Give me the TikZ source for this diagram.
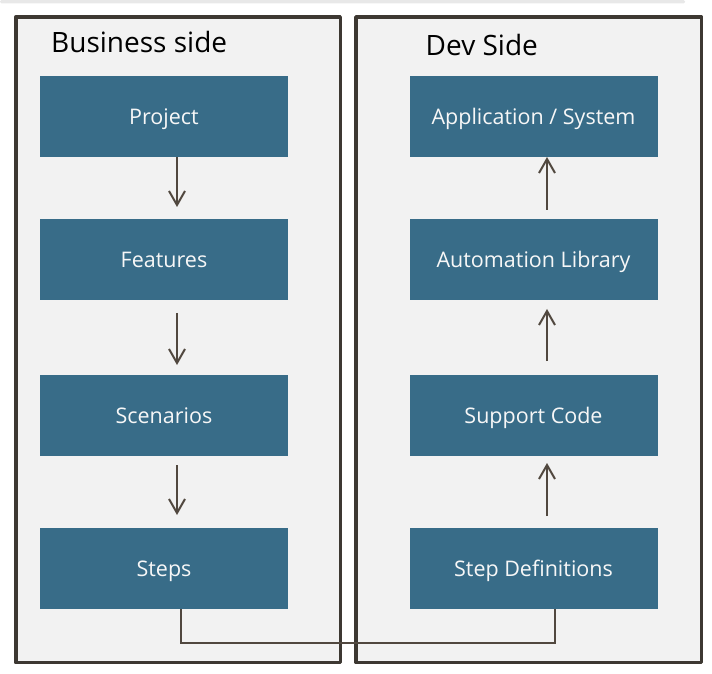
\documentclass[tikz,border=0pt]{standalone}
\usepackage{fontspec}
\setmainfont{Open Sans}
\usetikzlibrary{positioning,arrows.meta}

\definecolor{blkfill}{HTML}{386C88}
\definecolor{panelfill}{HTML}{F2F2F2}
\definecolor{paneldraw}{HTML}{3D3832}
\definecolor{arrcol}{HTML}{51483F}
\definecolor{stripcol}{HTML}{E8E8E8}

\begin{document}
\begin{tikzpicture}[
  x=1pt, y=1pt,
  node distance=62pt and 121.5pt,
  panel/.style={draw=paneldraw, fill=panelfill, line width=3.5pt, line join=round},
  blk/.style={fill=blkfill, text=white!97!black, minimum width=248pt, minimum height=81pt,
    inner sep=0pt, outer sep=0pt, text height=15.4pt, text depth=0pt,
    font=\fontsize{21.5}{26}\selectfont},
  ttl/.style={anchor=base west, inner sep=0pt, font=\fontsize{28}{34}\selectfont},
  arr/.style={draw=arrcol, line width=2pt, -{Straight Barb[length=14pt,width=16pt,line width=2pt]}},
  link/.style={draw=arrcol, line width=2pt}
]
\useasboundingbox (0,0) rectangle (712,673);

\fill[stripcol, rounded corners=1.5pt] (0,669.5) rectangle (685,673);
\draw[panel] (15.75,656) rectangle (340.25,10.5);
\draw[panel] (356,656) rectangle (701.5,10.5);

\node[ttl] (biz) at (51,620) {Business side};
\node[ttl] (dev) at (425.5,617) {Dev Side};

% business side
\node[blk] (proj) at (164,556.5) {Project};
\node[blk, below=of proj] (feat) {Features};
\node[blk, below=75pt of feat] (scen) {Scenarios};
\node[blk, below=72pt of scen] (steps) {Steps};

% dev side
\node[blk, right=of proj] (app) {Application / System};
\node[blk, right=of feat] (auto) {Automation Library};
\node[blk, right=of scen] (supp) {Support Code};
\node[blk, right=of steps] (stepdef) {Step Definitions};

\path
% downwards
([xshift=13pt]proj.south) edge[arr, shorten >=12pt] ([xshift=13pt]feat.north)
([xshift=13pt]feat.south) edge[arr, shorten <=13pt, shorten >=10pt] ([xshift=13pt]scen.north)
([xshift=13pt]scen.south) edge[arr, shorten <=9pt, shorten >=13pt] ([xshift=13pt]steps.north)

% upwards
([xshift=13.5pt]auto.north) edge[arr, shorten <=9pt] ([xshift=13.5pt]app.south)
([xshift=13.5pt]supp.north) edge[arr, shorten <=14pt, shorten >=9pt] ([xshift=13.5pt]auto.south)
([xshift=13.5pt]stepdef.north) edge[arr, shorten <=12pt, shorten >=7pt] ([xshift=13.5pt]supp.south)
;

\draw[link] ([xshift=17pt]steps.south) -- ++(0,-34) -| ([xshift=21.5pt]stepdef.south);

\end{tikzpicture}
\end{document}
